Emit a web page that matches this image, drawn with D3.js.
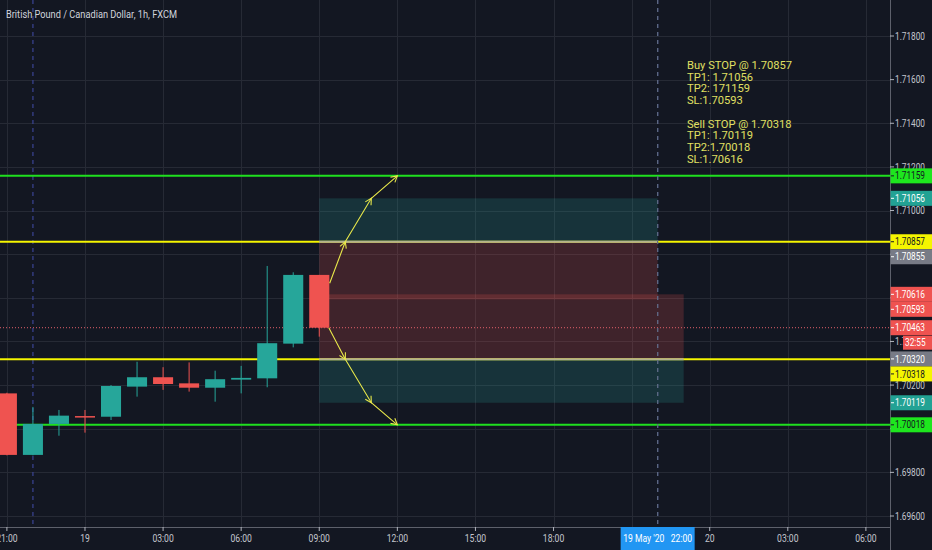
<!DOCTYPE html>
<html><head><meta charset="utf-8">
<script src="https://cdn.jsdelivr.net/npm/d3@7"></script>
<style>html,body{margin:0;padding:0;background:#131722;overflow:hidden}</style>
</head><body>
<svg id="c" width="932" height="550"></svg>
<script>
// ---------- data ----------
const title = "British Pound / Canadian Dollar, 1h, FXCM";
const candleTimes = ["2020-05-18T21:00Z","2020-05-18T22:00Z","2020-05-18T23:00Z","2020-05-19T00:00Z","2020-05-19T01:00Z","2020-05-19T02:00Z","2020-05-19T03:00Z","2020-05-19T04:00Z","2020-05-19T05:00Z","2020-05-19T06:00Z","2020-05-19T07:00Z","2020-05-19T08:00Z","2020-05-19T09:00Z"];
const candleOpen  = [1.70162,1.69880,1.70022,1.70058,1.70055,1.70193,1.70236,1.70208,1.70188,1.70225,1.70231,1.70390,1.70705];
const candleHigh  = [1.70165,1.70100,1.70086,1.70086,1.70200,1.70307,1.70282,1.70304,1.70266,1.70288,1.70746,1.70717,1.70705];
const candleLow   = [1.69878,1.69878,1.69968,1.69982,1.70040,1.70147,1.70178,1.70170,1.70124,1.70162,1.70190,1.70373,1.70422];
const candleClose = [1.69880,1.70022,1.70060,1.70055,1.70196,1.70236,1.70205,1.70188,1.70227,1.70233,1.70392,1.70705,1.70463];

const greenLevels  = [1.71159, 1.70018];
const yellowLevels = [1.70857, 1.70318];

const positionEntry  = [1.70857, 1.70318];
const positionTarget = [1.71056, 1.70119];
const positionStop   = [1.70593, 1.70616];
const positionStart  = ["2020-05-19T09:00Z","2020-05-19T09:00Z"];
const positionEnd    = ["2020-05-19T22:00Z","2020-05-19T23:00Z"];

const arrowUpTimes    = ["2020-05-19T09:24Z","2020-05-19T10:00Z","2020-05-19T11:00Z","2020-05-19T12:00Z"];
const arrowUpPrices   = [1.70667,1.70857,1.71056,1.71159];
const arrowDownTimes  = ["2020-05-19T09:22Z","2020-05-19T10:00Z","2020-05-19T11:00Z","2020-05-19T12:00Z"];
const arrowDownPrices = [1.70463,1.70318,1.70119,1.70018];

const currentPrice = 1.70463;
const countdownText = "32:55";
const sessionBreaks = ["2020-05-18T22:00Z","2020-05-19T22:00Z"];
const crosshairTime = "2020-05-19T22:00Z";
const crosshairLabel = "19 May '20   22:00";

const priceTicks = [1.696,1.698,1.700,1.702,1.704,1.706,1.708,1.710,1.712,1.714,1.716,1.718];
const priceLabelValues = [1.71159,1.71056,1.70857,1.70616,1.70463,1.70320,1.70119,1.70018,1.70855,1.70593,1.70318];
const priceLabelKinds  = ["green","teal","yellow","red","red","gray","teal","green","gray","red","yellow"];

const noteLines = ["Buy STOP @ 1.70857","TP1: 1.71056","TP2: 171159","SL:1.70593","","Sell STOP @ 1.70318","TP1: 1.70119","TP2:1.70018","SL:1.70616"];

// ---------- layout / style ----------
const W = 932, H = 550, PR = 890, PB = 527;
const BG = "#131722", GRID = "#262a35", UP = "#26a69a", DN = "#ef5350";
const FONT = "Roboto, 'Noto Sans', sans-serif";
const AX = 10;
const kindBg = {green:"#1ee61e", teal:"#22a294", yellow:"#f5f500", red:"#ef5350", gray:"#787b86"};
const kindFg = {green:"#131722", teal:"#ffffff", yellow:"#131722", red:"#ffffff", gray:"#ffffff"};

const parse = d3.isoParse;
const base = Date.UTC(2020,4,19,0);
const x = d3.scaleUtc()
  .domain([new Date(base - 3.265*3600e3), new Date(base + 30.926*3600e3)])
  .range([0, PR]);
const y = d3.scaleLinear().domain([1.696, 1.718]).range([516, 36]);

const svg = d3.select("#c");
svg.append("rect").attr("width",W).attr("height",H).attr("fill",BG);
svg.append("defs").append("clipPath").attr("id","plot")
  .append("rect").attr("width",PR).attr("height",PB);

function squeezeTo(sel, refText, target, size){
  const t = svg.append("text").attr("font-family",FONT).attr("font-size",size).text(refText);
  const f = target / t.node().getComputedTextLength();
  t.remove();
  sel.each(function(){
    const L = this.getComputedTextLength();
    if (L > 0){ this.setAttribute("textLength", L*f); this.setAttribute("lengthAdjust","spacingAndGlyphs"); }
  });
}

const plot = svg.append("g").attr("clip-path","url(#plot)");

// grid
const timeTicks = x.ticks(d3.utcHour.every(3));
plot.append("g").selectAll("line").data(timeTicks).join("line")
  .attr("x1",d=>Math.round(x(d))+0.5).attr("x2",d=>Math.round(x(d))+0.5)
  .attr("y1",0).attr("y2",PB).attr("stroke",GRID).attr("stroke-width",1);
plot.append("g").selectAll("line").data(priceTicks).join("line")
  .attr("y1",d=>Math.round(y(d))+0.5).attr("y2",d=>Math.round(y(d))+0.5)
  .attr("x1",0).attr("x2",PR).attr("stroke",GRID).attr("stroke-width",1);

// session breaks
plot.append("g").selectAll("line").data(sessionBreaks).join("line")
  .attr("x1",d=>x(parse(d))).attr("x2",d=>x(parse(d)))
  .attr("y1",0).attr("y2",PB).attr("stroke","#3b4594").attr("stroke-width",1.2)
  .attr("stroke-dasharray","4,4");

// level lines
plot.append("g").selectAll("line").data(greenLevels).join("line")
  .attr("x1",0).attr("x2",PR).attr("y1",d=>y(d)).attr("y2",d=>y(d))
  .attr("stroke","#1fe01f").attr("stroke-width",2);
plot.append("g").selectAll("line").data(yellowLevels).join("line")
  .attr("x1",0).attr("x2",PR).attr("y1",d=>y(d)).attr("y2",d=>y(d))
  .attr("stroke","#f5f500").attr("stroke-width",2);

// position boxes
const pos = positionEntry.map((e,i)=>({e, tp:positionTarget[i], sl:positionStop[i], x0:x(parse(positionStart[i])), x1:x(parse(positionEnd[i]))}));
const pg = plot.append("g");
pos.forEach(p=>{
  pg.append("rect").attr("x",p.x0).attr("width",p.x1-p.x0)
    .attr("y",y(Math.max(p.e,p.tp))).attr("height",Math.abs(y(p.e)-y(p.tp)))
    .attr("fill",UP).attr("fill-opacity",0.2);
  pg.append("rect").attr("x",p.x0).attr("width",p.x1-p.x0)
    .attr("y",y(Math.max(p.e,p.sl))).attr("height",Math.abs(y(p.e)-y(p.sl)))
    .attr("fill",DN).attr("fill-opacity",0.2);
  pg.append("line").attr("x1",p.x0).attr("x2",p.x1).attr("y1",y(p.e)).attr("y2",y(p.e))
    .attr("stroke","#b3b48e").attr("stroke-width",2);
});

// current price dotted line
plot.append("line").attr("x1",0).attr("x2",PR).attr("y1",y(currentPrice)).attr("y2",y(currentPrice))
  .attr("stroke","#e0606a").attr("stroke-width",1).attr("stroke-dasharray","1,2");

// crosshair vertical
plot.append("line").attr("x1",x(parse(crosshairTime))).attr("x2",x(parse(crosshairTime)))
  .attr("y1",0).attr("y2",PB).attr("stroke","#5f6a80").attr("stroke-width",1.2).attr("stroke-dasharray","4,4");

// candles
const candles = candleTimes.map((t,i)=>({t:parse(t), o:candleOpen[i], h:candleHigh[i], l:candleLow[i], c:candleClose[i]}));
const step = x(parse(candleTimes[1])) - x(parse(candleTimes[0]));
const bw = step*0.77;
const cg = plot.append("g").selectAll("g").data(candles).join("g");
cg.append("line").attr("x1",d=>x(d.t)).attr("x2",d=>x(d.t))
  .attr("y1",d=>y(d.h)).attr("y2",d=>y(d.l))
  .attr("stroke",d=>d.c>=d.o?UP:DN).attr("stroke-width",1);
cg.append("rect").attr("x",d=>x(d.t)-bw/2).attr("width",bw)
  .attr("y",d=>y(Math.max(d.o,d.c))).attr("height",d=>Math.max(1.5,Math.abs(y(d.o)-y(d.c))))
  .attr("fill",d=>d.c>=d.o?UP:DN);

// arrows
function arrowPath(times, prices){
  const pts = times.map((t,i)=>[x(parse(t)), y(prices[i])]);
  const g = plot.append("g").attr("stroke","#e8e84a").attr("stroke-width",1.1).attr("fill","none");
  g.append("path").attr("d", d3.line()(pts));
  for (let i=1;i<pts.length;i++){
    const [x0,y0]=pts[i-1],[x1,y1]=pts[i];
    const a=Math.atan2(y1-y0,x1-x0), L=7, s=0.5;
    g.append("path").attr("d", d3.line()([[x1-L*Math.cos(a-s), y1-L*Math.sin(a-s)],[x1,y1],[x1-L*Math.cos(a+s), y1-L*Math.sin(a+s)]]));
  }
}
arrowPath(arrowUpTimes, arrowUpPrices);
arrowPath(arrowDownTimes, arrowDownPrices);

// title
const tt = svg.append("text").attr("x",6).attr("y",18).attr("fill","#d1d4dc")
  .attr("font-family",FONT).attr("font-size",11.5).text(title);
squeezeTo(tt, title, 171, 11.5);

// note text
const ng = svg.append("g").attr("fill","#e0e062").attr("font-family",FONT).attr("font-size",11.5);
const nt = ng.selectAll("text").data(noteLines).join("text")
  .attr("x",687).attr("y",(d,i)=>69+i*11.7).text(d=>d);
squeezeTo(nt, noteLines[0], 105, 11.5);

// axes lines
svg.append("line").attr("x1",PR+0.5).attr("x2",PR+0.5).attr("y1",0).attr("y2",H).attr("stroke","#5d606b");
svg.append("line").attr("x1",0).attr("x2",PR).attr("y1",PB+0.5).attr("y2",PB+0.5).attr("stroke","#5d606b");

// price labels positions (stacked so they don't collide)
const LH = 15;
const placed = [];
const labels = priceLabelValues.map((v,i)=>{
  let cy = y(v);
  let moved = true;
  while (moved){
    moved = false;
    for (const p of placed){
      if (Math.abs(p - cy) < LH - 0.01){ cy = p + LH; moved = true; }
    }
  }
  placed.push(cy);
  return {v, kind:priceLabelKinds[i], cy};
});

// price axis ticks (labels fully hidden behind a price label are not drawn)
const visibleTicks = priceTicks.filter(t => !labels.some(l => Math.abs(l.cy - y(t)) < 6));
const pa = svg.append("g").attr("font-family",FONT).attr("font-size",AX);
pa.selectAll("line").data(priceTicks).join("line")
  .attr("x1",PR).attr("x2",PR+4).attr("y1",d=>y(d)).attr("y2",d=>y(d)).attr("stroke","#b2b5be");
const pt = pa.selectAll("text").data(visibleTicks).join("text")
  .attr("x",PR+5).attr("y",d=>y(d)).attr("dy","0.36em").attr("fill","#c3c6ce").text(d=>d.toFixed(5));
squeezeTo(pt, "1.71800", 30, AX);

// time axis
const cx = x(parse(crosshairTime));
const timeLabelTicks = timeTicks.filter(d => Math.abs(x(d) - cx) > 45);
const ta = svg.append("g").attr("font-family",FONT).attr("font-size",10.5);
ta.selectAll("line").data(timeTicks).join("line")
  .attr("x1",d=>x(d)).attr("x2",d=>x(d)).attr("y1",PB).attr("y2",PB+4).attr("stroke","#b2b5be");
const tl = ta.selectAll("text").data(timeLabelTicks).join("text")
  .attr("x",d=>x(d)).attr("y",542).attr("text-anchor","middle").attr("fill","#c3c6ce")
  .text(d=>d.getUTCHours()===0 ? String(d.getUTCDate()) : d3.utcFormat("%H:%M")(d));
squeezeTo(tl, "03:00", 21.4, 10.5);

// crosshair time label
svg.append("rect").attr("x",cx-37).attr("width",74).attr("y",PB).attr("height",H-PB).attr("fill","#2196f3");
const cl = svg.append("text").attr("x",cx).attr("y",542).attr("text-anchor","middle").attr("fill","#ffffff")
  .attr("font-family",FONT).attr("font-size",10.5).style("white-space","pre").text(crosshairLabel);
squeezeTo(cl, "03:00", 21.4, 10.5);

// price labels
const lg = svg.append("g").attr("font-family",FONT).attr("font-size",AX);
const lbl = lg.selectAll("g").data(labels).join("g");
lbl.append("rect").attr("x",PR+0.5).attr("width",W-PR).attr("y",d=>d.cy-LH/2).attr("height",LH)
  .attr("fill",d=>kindBg[d.kind]);
lbl.append("line").attr("x1",PR+1).attr("x2",PR+4).attr("y1",d=>d.cy).attr("y2",d=>d.cy)
  .attr("stroke",d=>kindFg[d.kind]);
const lt = lbl.append("text").attr("x",PR+5).attr("y",d=>d.cy).attr("dy","0.36em")
  .attr("fill",d=>kindFg[d.kind]).text(d=>d.v.toFixed(5));
squeezeTo(lt, "1.71800", 30, AX);

// countdown under current price label
const cur = labels.find(d=>d.v===currentPrice);
svg.append("rect").attr("x",903).attr("width",W-903).attr("y",cur.cy+LH-7).attr("height",14).attr("fill",DN);
const ct = svg.append("text").attr("x",905).attr("y",cur.cy+LH).attr("dy","0.36em").attr("fill","#ffffff")
  .attr("font-family",FONT).attr("font-size",AX).text(countdownText);
squeezeTo(ct, "1.71800", 30, AX);
</script>
</body></html>
